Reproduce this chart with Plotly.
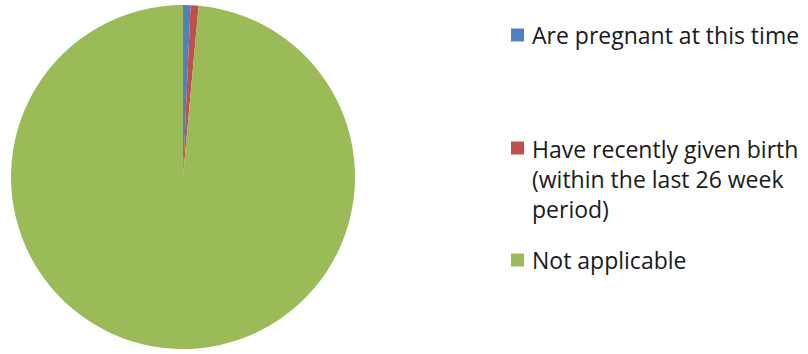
import plotly.graph_objects as go

W, H = 808, 354

labels = ["Are pregnant at this time",
          "Have recently given birth (within the last 26 week period)",
          "Not applicable"]
legend_text = ["Are pregnant at this time",
               "Have recently given birth<br>(within the last 26 week<br>period)",
               "Not applicable"]
values = [0.7, 0.75, 98.55]
colors = ["#4F81BD", "#C0504D", "#9BBB59"]

fig = go.Figure(go.Pie(
    labels=labels, values=values, sort=False, direction="clockwise", rotation=0,
    marker=dict(colors=colors, line=dict(width=0)),
    textinfo="none", hoverinfo="label+percent", showlegend=False,
    domain=dict(x=[11 / W, 355 / W], y=[1 - 350 / H, 1 - 4 / H]),
))

sq_y = [35, 148, 260]
txt_y = [35, 179, 260]
font = dict(family="Open Sans, sans-serif", size=23, color="#1a1a1a")
for i, lab in enumerate(legend_text):
    fig.add_shape(type="rect", xref="paper", yref="paper",
                  x0=511 / W, x1=524 / W,
                  y0=1 - (sq_y[i] + 6.5) / H, y1=1 - (sq_y[i] - 6.5) / H,
                  fillcolor=colors[i], line=dict(width=0))
    fig.add_annotation(xref="paper", yref="paper", x=530 / W, y=1 - txt_y[i] / H,
                       xanchor="left", yanchor="middle", text=lab, showarrow=False,
                       align="left", font=font)

fig.update_layout(width=W, height=H, margin=dict(l=0, r=0, t=0, b=0),
                  paper_bgcolor="white", plot_bgcolor="white")
fig.write_html("out.html")
